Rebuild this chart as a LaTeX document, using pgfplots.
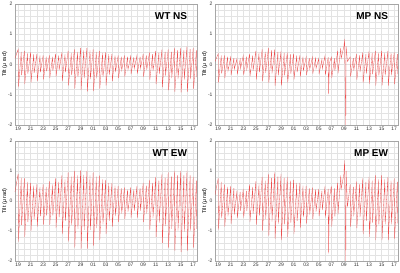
\documentclass[border=0pt]{standalone}
\usepackage{fontspec}
\setmainfont{Liberation Sans}
\usepackage{pgfplots}
\pgfplotsset{compat=1.18}
\definecolor{sig}{RGB}{236,80,80}
\pgfplotsset{panel/.style={
  scale only axis, width=182pt, height=121pt,
  xmin=-0.5, xmax=28.6, ymin=-2, ymax=2,
  xtick={0,2,...,28},
  xticklabels={19,21,23,25,27,29,01,03,05,07,09,11,13,15,17},
  ytick={-2,-1,0,1,2},
  minor x tick num=1, minor y tick num=4,
  grid=both,
  major grid style={draw=gray!22, line width=0.3pt},
  minor grid style={draw=gray!22, line width=0.3pt},
  axis line style={draw=gray!70, line width=0.5pt},
  tick style={draw=none},
  /pgf/number format/assume math mode=true,
  tick label style={font=\fontsize{5}{6}\selectfont, text=black!80},
  xticklabel style={yshift=1.5pt},
  yticklabel style={xshift=1pt},
  ylabel={Tilt (\textit{μ} rad)},
  ylabel style={font=\fontsize{5.5}{6}\selectfont, yshift=-6pt},
  clip=true,
}}
\newcommand{\paneltitle}[1]{\node[anchor=north east, font=\bfseries\fontsize{10}{11}\selectfont] at (rel axis cs:0.965,0.955) {#1};}
\newcommand{\months}{\node[font=\bfseries\fontsize{4.5}{5}\selectfont, anchor=north, inner sep=0pt] at (axis cs:5.5,-2) [yshift=-5.5pt] {04};
\node[font=\bfseries\fontsize{4.5}{5}\selectfont, anchor=north, inner sep=0pt] at (axis cs:20,-2) [yshift=-5.5pt] {05};}
\begin{document}
\begin{tikzpicture}
\useasboundingbox (0,0) rectangle (400pt,273pt);
% WT NS
\begin{axis}[panel, at={(15pt,148pt)}, anchor=south west]
\addplot[sig, line width=0.3pt] coordinates {
(-0.5,.2)
(0,.50)(.06,-.75)(.5,.42)(.56,-.35)
(1,.45)(1.06,-.65)(1.5,.38)(1.56,-.30)
(2,.40)(2.06,-.60)(2.5,.34)(2.56,-.28)
(3,.35)(3.06,-.55)(3.5,.30)(3.56,-.25)
(4,.30)(4.06,-.50)(4.5,.26)(4.56,-.22)
(5,.30)(5.06,-.45)(5.5,.26)(5.56,-.20)
(6,.35)(6.06,-.40)(6.5,.30)(6.56,-.18)
(7,.40)(7.06,-.55)(7.5,.34)(7.56,-.25)
(8,.45)(8.06,-.70)(8.5,.38)(8.56,-.35)
(9,.50)(9.06,-.80)(9.5,.42)(9.56,-.42)
(10,.55)(10.06,-.85)(10.5,.47)(10.56,-.45)
(11,.55)(11.06,-.90)(11.5,.47)(11.56,-.48)
(12,.50)(12.06,-.88)(12.5,.42)(12.56,-.46)
(13,.45)(13.06,-.80)(13.5,.38)(13.56,-.42)
(14,.40)(14.06,-.70)(14.5,.34)(14.56,-.35)
(15,.35)(15.06,-.55)(15.5,.30)(15.56,-.25)
(16,.30)(16.06,-.45)(16.5,.26)(16.56,-.20)
(17,.30)(17.06,-.40)(17.5,.26)(17.56,-.18)
(18,.28)(18.06,-.32)(18.5,.24)(18.56,-.14)
(19,.30)(19.06,-.30)(19.5,.26)(19.56,-.14)
(20,.35)(20.06,-.40)(20.5,.30)(20.56,-.18)
(21,.40)(21.06,-.50)(21.5,.34)(21.56,-.22)
(22,.45)(22.06,-.65)(22.5,.38)(22.56,-.32)
(23,.50)(23.06,-.75)(23.5,.42)(23.56,-.38)
(24,.50)(24.06,-.85)(24.5,.42)(24.56,-.45)
(25,.55)(25.06,-.90)(25.5,.47)(25.56,-.48)
(26,.55)(26.06,-.92)(26.5,.47)(26.56,-.50)
(27,.60)(27.06,-.90)(27.5,.51)(27.56,-.48)
(28,.55)(28.06,-.80)(28.5,.47)(28.56,-.42)
};
\paneltitle{WT NS}
\months
\end{axis}
% MP NS
\begin{axis}[panel, at={(215pt,148pt)}, anchor=south west, width=183pt]
\addplot[sig, line width=0.3pt] coordinates {
(-0.5,.1)
(0,.35)(.06,-.60)(.5,.30)(.56,-.30)
(1,.30)(1.06,-.45)(1.5,.26)(1.56,-.22)
(2,.25)(2.06,-.35)(2.5,.21)(2.56,-.16)
(3,.20)(3.06,-.30)(3.5,.17)(3.56,-.14)
(4,.30)(4.06,-.35)(4.5,.26)(4.56,-.16)
(5,.35)(5.06,-.40)(5.5,.30)(5.56,-.20)
(6,.45)(6.06,-.50)(6.5,.38)(6.56,-.25)
(7,.50)(7.06,-.55)(7.5,.42)(7.56,-.28)
(8,.55)(8.06,-.60)(8.5,.47)(8.56,-.30)
(9,.50)(9.06,-.70)(9.5,.42)(9.56,-.36)
(10,.45)(10.06,-.70)(10.5,.38)(10.56,-.36)
(11,.40)(11.06,-.60)(11.5,.34)(11.56,-.30)
(12,.35)(12.06,-.50)(12.5,.30)(12.56,-.25)
(13,.30)(13.06,-.40)(13.5,.26)(13.56,-.20)
(14,.25)(14.06,-.35)(14.5,.21)(14.56,-.16)
(15,.25)(15.06,-.30)(15.5,.21)(15.56,-.14)
(16,.20)(16.06,-.30)(16.5,.17)(16.56,-.14)
(17,.30)(17.06,-.35)(17.5,.24)(17.56,-.98)(17.7,.05)
(18,.25)(18.06,-.45)(18.5,.21)(18.56,-.20)
(19,.45)(19.06,-.30)(19.5,.55)(19.56,.20)
(20,.60)(20.1,.85)(20.3,-2.05)(20.35,.60)(20.56,.10)
(21,.25)(21.06,-.40)(21.5,.21)(21.56,-.20)
(22,.35)(22.06,-.50)(22.5,.30)(22.56,-.25)
(23,.40)(23.06,-.60)(23.5,.34)(23.56,-.30)
(24,.45)(24.06,-.65)(24.5,.38)(24.56,-.32)
(25,.45)(25.06,-.70)(25.5,.38)(25.56,-.36)
(26,.45)(26.06,-.70)(26.5,.38)(26.56,-.36)
(27,.45)(27.06,-.70)(27.5,.38)(27.56,-.36)
(28,.40)(28.06,-.65)(28.5,.34)(28.56,-.32)
};
\paneltitle{MP NS}
\months
\end{axis}
% WT EW
\begin{axis}[panel, at={(15pt,12pt)}, anchor=south west, height=120pt]
\addplot[sig, line width=0.3pt] coordinates {
(-0.5,.3)
(0,.90)(.06,-1.35)(.5,.77)(.56,-.80)
(1,.75)(1.06,-1.20)(1.5,.64)(1.56,-.70)
(2,.60)(2.06,-1.00)(2.5,.51)(2.56,-.60)
(3,.55)(3.06,-.85)(3.5,.47)(3.56,-.50)
(4,.55)(4.06,-.80)(4.5,.47)(4.56,-.48)
(5,.65)(5.06,-.80)(5.5,.55)(5.56,-.48)
(6,.75)(6.06,-.90)(6.5,.64)(6.56,-.54)
(7,.85)(7.06,-1.10)(7.5,.72)(7.56,-.66)
(8,.95)(8.06,-1.35)(8.5,.81)(8.56,-.80)
(9,1.00)(9.06,-1.55)(9.5,.85)(9.56,-.93)
(10,1.02)(10.06,-1.60)(10.5,.87)(10.56,-.96)
(11,1.00)(11.06,-1.60)(11.5,.85)(11.56,-.96)
(12,.95)(12.06,-1.50)(12.5,.81)(12.56,-.90)
(13,.85)(13.06,-1.30)(13.5,.72)(13.56,-.78)
(14,.70)(14.06,-1.10)(14.5,.60)(14.56,-.66)
(15,.60)(15.06,-.85)(15.5,.51)(15.56,-.50)
(16,.50)(16.06,-.70)(16.5,.43)(16.56,-.42)
(17,.45)(17.06,-.60)(17.5,.38)(17.56,-.36)
(18,.45)(18.06,-.55)(18.5,.38)(18.56,-.33)
(19,.50)(19.06,-.55)(19.5,.43)(19.56,-.33)
(20,.60)(20.06,-.70)(20.5,.51)(20.56,-.42)
(21,.70)(21.06,-.95)(21.5,.60)(21.56,-.57)
(22,.80)(22.06,-1.20)(22.5,.68)(22.56,-.72)
(23,.90)(23.06,-1.40)(23.5,.77)(23.56,-.84)
(24,.95)(24.06,-1.55)(24.5,.81)(24.56,-.93)
(25,1.00)(25.06,-1.65)(25.5,.85)(25.56,-.99)
(26,1.00)(26.06,-1.70)(26.5,.85)(26.56,-1.02)
(27,1.00)(27.06,-1.65)(27.5,.85)(27.56,-.99)
(28,.80)(28.06,-1.55)(28.5,.68)(28.56,-.93)
};
\paneltitle{WT EW}
\months
\end{axis}
% MP EW
\begin{axis}[panel, at={(215pt,12pt)}, anchor=south west, width=183pt, height=120pt]
\addplot[sig, line width=0.3pt] coordinates {
(-0.5,.2)
(0,.75)(.06,-.95)(.5,.64)(.56,-.57)
(1,.55)(1.06,-.85)(1.5,.47)(1.56,-.51)
(2,.50)(2.06,-.75)(2.5,.43)(2.56,-.45)
(3,.35)(3.06,-.55)(3.5,.30)(3.56,-.33)
(4,.40)(4.06,-.55)(4.5,.34)(4.56,-.33)
(5,.55)(5.06,-.70)(5.5,.47)(5.56,-.42)
(6,.65)(6.06,-.80)(6.5,.55)(6.56,-.48)
(7,.80)(7.06,-1.00)(7.5,.68)(7.56,-.60)
(8,.90)(8.06,-1.15)(8.5,.77)(8.56,-.69)
(9,.95)(9.06,-1.25)(9.5,.81)(9.56,-.75)
(10,.90)(10.06,-1.30)(10.5,.77)(10.56,-.78)
(11,.80)(11.06,-1.20)(11.5,.68)(11.56,-.72)
(12,.70)(12.06,-1.10)(12.5,.60)(12.56,-.66)
(13,.60)(13.06,-.90)(13.5,.51)(13.56,-.54)
(14,.50)(14.06,-.75)(14.5,.43)(14.56,-.45)
(15,.45)(15.06,-.60)(15.5,.38)(15.56,-.36)
(16,.40)(16.06,-.50)(16.5,.34)(16.56,-.30)
(17,.50)(17.06,-.55)(17.5,.40)(17.56,-1.75)(17.7,.10)
(18,.50)(18.06,-.85)(18.5,.43)(18.56,-.51)
(19,.60)(19.06,-.45)(19.5,.85)(19.56,.40)
(20,.90)(20.1,1.35)(20.3,-2.05)(20.35,1.00)(20.56,-.20)
(21,.55)(21.06,-.85)(21.5,.47)(21.56,-.51)
(22,.65)(22.06,-.90)(22.5,.55)(22.56,-.54)
(23,.75)(23.06,-1.10)(23.5,.64)(23.56,-.66)
(24,.80)(24.06,-1.20)(24.5,.68)(24.56,-.72)
(25,.85)(25.06,-1.30)(25.5,.72)(25.56,-.78)
(26,.85)(26.06,-1.30)(26.5,.72)(26.56,-.78)
(27,.80)(27.06,-1.30)(27.5,.68)(27.56,-.78)
(28,.75)(28.06,-1.25)(28.5,.64)(28.56,-.75)
};
\paneltitle{MP EW}
\months
\end{axis}
\end{tikzpicture}
\end{document}
